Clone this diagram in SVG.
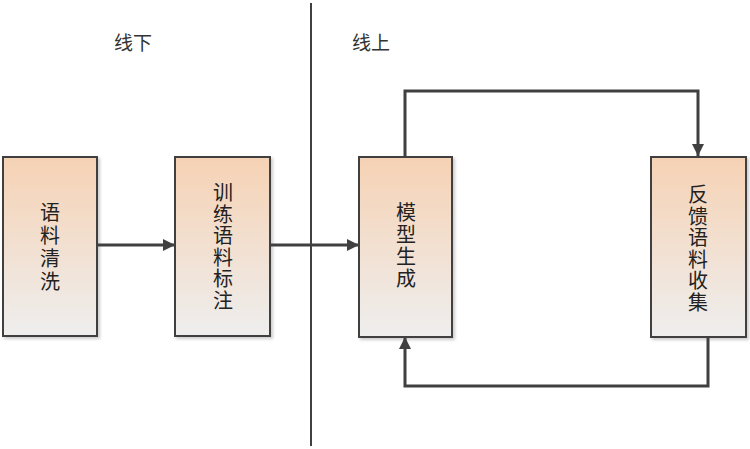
<svg xmlns="http://www.w3.org/2000/svg" width="750" height="449" viewBox="0 0 750 449">
<defs>
<linearGradient id="g" x1="0" y1="0" x2="0" y2="1">
<stop offset="0" stop-color="#F6D2B4"/>
<stop offset="1" stop-color="#EEEEEE"/>
</linearGradient>
<marker id="arr" viewBox="0 0 10 10" refX="10" refY="5" markerWidth="4" markerHeight="4" orient="auto" markerUnits="strokeWidth">
<path d="M0,0 L10,5 L0,10 z" fill="#404040"/>
</marker>
<filter id="sh" x="-10%" y="-10%" width="130%" height="130%">
<feDropShadow dx="2" dy="2" stdDeviation="1.5" flood-color="#000" flood-opacity="0.2"/>
</filter>
</defs>
<style>
.box{fill:url(#g);stroke:#404040;stroke-width:2;filter:url(#sh)}
.t{font-family:"Liberation Serif","Noto Sans CJK SC",serif;font-size:20px;fill:#222;text-anchor:middle}
.lab{font-family:"Liberation Sans","Noto Sans CJK SC",sans-serif;font-size:19px;fill:#333}
.c{fill:none;stroke:#404040;stroke-width:3}
</style>
<line x1="311" y1="3" x2="311" y2="446" stroke="#404040" stroke-width="2"/>
<text class="lab" x="114" y="50">线下</text>
<text class="lab" x="352" y="50">线上</text>
<g id="n1">
<rect class="box" x="3" y="157" width="94" height="179"/>
<text class="t"><tspan x="50" y="220">语</tspan><tspan x="50" y="243">料</tspan><tspan x="50" y="266">清</tspan><tspan x="50" y="289">洗</tspan></text>
</g>
<g id="n2">
<rect class="box" x="175" y="157" width="95" height="179"/>
<text class="t"><tspan x="223" y="200">训</tspan><tspan x="223" y="221.5">练</tspan><tspan x="223" y="243">语</tspan><tspan x="223" y="264.5">料</tspan><tspan x="223" y="286">标</tspan><tspan x="223" y="307.5">注</tspan></text>
</g>
<g id="n3">
<rect class="box" x="359" y="157" width="93" height="180"/>
<text class="t"><tspan x="406" y="220">模</tspan><tspan x="406" y="242">型</tspan><tspan x="406" y="264">生</tspan><tspan x="406" y="286">成</tspan></text>
</g>
<g id="n4">
<rect class="box" x="651" y="157" width="95" height="180"/>
<text class="t"><tspan x="698" y="202">反</tspan><tspan x="698" y="223.5">馈</tspan><tspan x="698" y="245">语</tspan><tspan x="698" y="266.5">料</tspan><tspan x="698" y="288">收</tspan><tspan x="698" y="309.5">集</tspan></text>
</g>
<g id="connectors">
<path class="c" d="M97,245 H175" marker-end="url(#arr)"/>
<path class="c" d="M270,245 H359" marker-end="url(#arr)"/>
<path class="c" d="M405,157 V91 H698 V156" marker-end="url(#arr)"/>
<path class="c" d="M708,337 V386 H405 V337" marker-end="url(#arr)"/>
</g>
</svg>
